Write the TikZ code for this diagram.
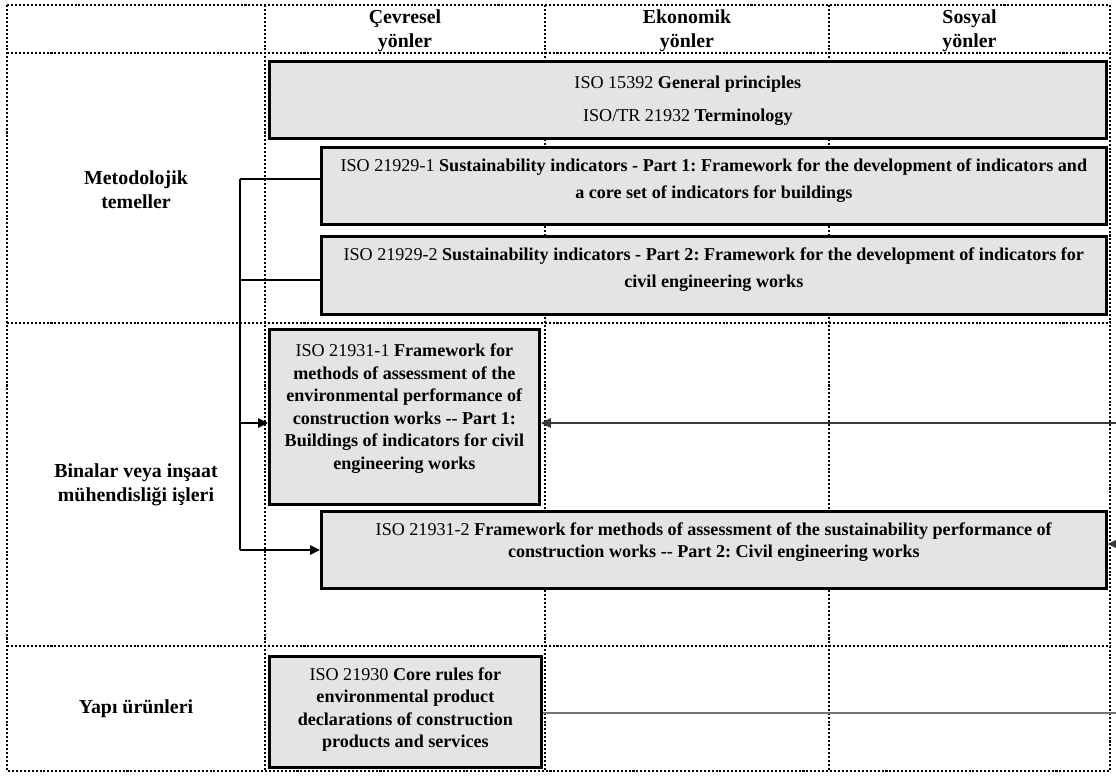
\documentclass[tikz,border=0pt]{standalone}
\usepackage{fontspec}
\setmainfont{Liberation Serif}
\usepackage{xcolor}
\definecolor{boxgray}{HTML}{E4E4E4}
\definecolor{linegray}{HTML}{3A3A3A}
\usetikzlibrary{arrows.meta, positioning}
\frenchspacing
\tikzset{
  gline/.style ={line width=1.15pt, dash pattern=on 1.15pt off 1.1pt},
  isobox/.style={rectangle, draw=black, line width=1.6pt, fill=boxgray, anchor=north west},
  isotxt/.style={anchor=north, align=center, inner sep=0pt, yshift=-0.24cm,
                 font=\fontsize{10.3}{12.8}\selectfont},
  colhead/.style={align=center, font=\fontsize{11.3}{13.6}\selectfont\bfseries},
  rowhead/.style={align=center, font=\fontsize{11.3}{13.6}\selectfont\bfseries},
  conn/.style   ={line width=0.6pt, color=black},
  connarr/.style={-{Triangle[length=2mm, width=1.9mm]}, line width=0.6pt, color=black},
  rarr/.style   ={-{Triangle[length=2mm, width=1.9mm]}, line width=0.7pt, color=linegray},
  rline/.style  ={line width=0.8pt, color=black!55},
}
\begin{document}
\begin{tikzpicture}[x=0.02cm, y=-0.02cm]
  \useasboundingbox (0,0) rectangle (1116,776);

  % table grid
  \draw[gline] (7,5) rectangle (1110,771);
  \foreach \yy in {53,323,646} \draw[gline] (7,\yy) -- (1110,\yy);
  \foreach \xx in {265,545,829} \draw[gline] (\xx,5) -- (\xx,771);

  % column and row headings
  \node[colhead] (hcev) at (405,31) {Çevresel\\yönler};
  \node[colhead] (heko) at (687,31) {Ekonomik\\yönler};
  \node[colhead] (hsos) at (969.5,31) {Sosyal\\yönler};
  \node[rowhead] (rmet) at (136,190) {Metodolojik\\temeller};
  \node[rowhead] (rbin) at (136,485) {Binalar veya inşaat\\mühendisliği işleri};
  \node[rowhead] (ryap) at (136,709) {Yapı ürünleri};

  % standards
  \node[isobox, minimum width=16.74cm, minimum height=1.54cm,
        label={[isotxt, yshift=-0.08cm]north:{ISO 15392 \textbf{General principles}\\[6pt]
        ISO/TR 21932 \textbf{Terminology}}}] (a15392) at (268,60) {};
  \node[isobox, minimum width=15.70cm, minimum height=1.54cm,
        label={[isotxt]north:{ISO 21929-1 \textbf{Sustainability indicators - Part 1: Framework for the development of indicators and}\\[2.6pt]
        \textbf{a core set of indicators for buildings}}}] (b21929a) at (320,146) {};
  \node[isobox, minimum width=15.70cm, minimum height=1.56cm,
        label={[isotxt]north:{ISO 21929-2 \textbf{Sustainability indicators - Part 2: Framework for the development of indicators for}\\[2.6pt]
        \textbf{civil engineering works}}}] (c21929b) at (320,235) {};
  \node[isobox, minimum width=5.40cm, minimum height=3.50cm,
        label={[isotxt, yshift=-0.07cm]north:{ISO 21931-1 \textbf{Framework for}\\
        \textbf{methods of assessment of the}\\
        \textbf{environmental performance of}\\
        \textbf{construction works -{}- Part 1:}\\
        \textbf{Buildings of indicators for civil}\\
        \textbf{engineering works}}}] (d21931a) at (268,328) {};
  \node[isobox, minimum width=15.70cm, minimum height=1.54cm,
        label={[isotxt]north:{ISO 21931-2 \textbf{Framework for methods of assessment of the sustainability performance of}\\
        \textbf{construction works -{}- Part 2: Civil engineering works}}}] (e21931b) at (320,510) {};
  \node[isobox, minimum width=5.44cm, minimum height=2.22cm,
        label={[isotxt]north:{ISO 21930 \textbf{Core rules for}\\
        \textbf{environmental product}\\
        \textbf{declarations of construction}\\
        \textbf{products and services}}}] (f21930) at (268,655) {};

  % left trunk
  \coordinate (tk1) at (240,179);
  \coordinate (tk2) at (240,280);
  \coordinate (tk3) at (240,423);
  \coordinate (tk4) at (240,550);
  \draw[conn] (tk1) -- (tk4);
  \draw[conn] (tk1) -- (tk1 -| b21929a.west);
  \draw[conn] (tk2) -- (tk2 -| c21929b.west);
  \draw[connarr] (tk3) -- (tk3 -| d21931a.west);
  \draw[connarr] (tk4) -- (tk4 -| e21931b.west);

  % lines from the right
  \coordinate (rt1) at (1116,423);
  \coordinate (rt2) at (1116,544);
  \coordinate (rt3) at (1116,713);
  \draw[rarr] (rt1) -- (rt1 -| d21931a.east);
  \draw[rarr] (rt2) -- (rt2 -| e21931b.east);
  \draw[rline] (rt3 -| f21930.east) -- (rt3);
\end{tikzpicture}
\end{document}
